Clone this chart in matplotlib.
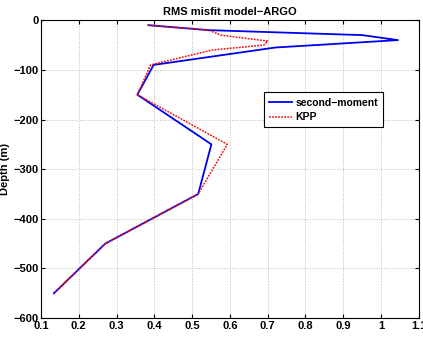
import matplotlib
matplotlib.use("Agg")
import matplotlib.pyplot as plt

# depth levels (m) and RMS misfit for each scheme
depth_sm = [-10, -20, -30, -40, -55, -90, -150, -250, -350, -450, -550]
rms_sm = [0.384, 0.544, 0.95, 1.045, 0.72, 0.398, 0.355, 0.551, 0.516, 0.27, 0.134]

depth_kpp = [-10, -20, -30, -42, -50, -60, -90, -150, -250, -350, -450, -550]
rms_kpp = [0.384, 0.544, 0.575, 0.70, 0.69, 0.553, 0.39, 0.355, 0.593, 0.516, 0.27, 0.134]

xticks = [0.1, 0.2, 0.3, 0.4, 0.5, 0.6, 0.7, 0.8, 0.9, 1, 1.1]
xticklabels = ["0.1", "0.2", "0.3", "0.4", "0.5", "0.6", "0.7", "0.8", "0.9", "1", "1.1"]
yticks = [-600, -500, -400, -300, -200, -100, 0]

plt.rcParams['font.family'] = ['Liberation Sans', 'DejaVu Sans']
plt.rcParams['font.weight'] = 'bold'

fig = plt.figure(figsize=(4.23, 3.37), dpi=100)
ax = fig.add_axes([0.097, 0.056, 0.893, 0.884])

ax.plot(rms_sm, depth_sm, color='#0000ee', lw=1.3, label='second\u2212moment')
ax.plot(rms_kpp, depth_kpp, color='#ee1111', lw=1.1, ls=(0, (1.2, 0.8)), label='KPP')

ax.set_xlim(0.1, 1.1)
ax.set_ylim(-600, 0)
ax.set_xticks(xticks)
ax.set_xticklabels(xticklabels)
ax.set_yticks(yticks)
ax.tick_params(direction='in', labelsize=8, length=3, top=True, right=True, pad=2)
ax.grid(True, ls=':', color='#bbbbbb', lw=0.7)
for s in ax.spines.values():
    s.set_linewidth(0.8)

ax.set_title('RMS misfit model\u2212ARGO', fontsize=8, fontweight='bold', pad=4)
ax.set_ylabel('Depth (m)', fontsize=8, fontweight='bold', labelpad=2)

leg = ax.legend(loc='upper left', bbox_to_anchor=(0.59, 0.758), fontsize=7.5,
                fancybox=False, framealpha=1, edgecolor='black', handlelength=2.2,
                handletextpad=0.3, borderpad=0.5, labelspacing=0.45, borderaxespad=0)
leg.get_frame().set_linewidth(0.8)

fig.savefig('out.png', dpi=100)
